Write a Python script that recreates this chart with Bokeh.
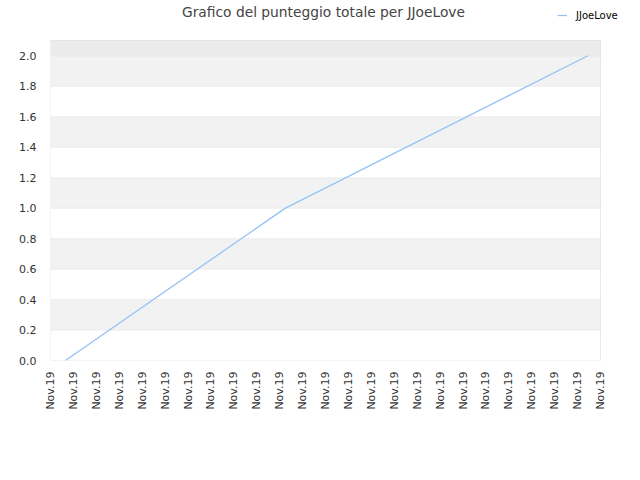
from bokeh.plotting import figure
from bokeh.models import FixedTicker, BoxAnnotation, Legend, LegendItem, Label
from bokeh.embed import file_html
from bokeh.resources import INLINE

# data (x in tick-index units along the date axis)
series_name = "JJoeLove"
xs = [0.65, 10.25, 23.45]
ys = [0.0, 1.0, 2.0]
tick_positions = list(range(25))
tick_labels = ["Nov.19"] * 25
y_ticks = [0.0, 0.2, 0.4, 0.6, 0.8, 1.0, 1.2, 1.4, 1.6, 1.8, 2.0]
x_start, x_end = 0, 24
y_start, y_end = 0.0, 2.1
title_text = "Grafico del punteggio totale per JJoeLove"
line_color = "#94c4f5"

# frame extends above and right of the plotting box so that title and legend
# (which sit outside the box in the reference) can be drawn
px_per_x = 550 / (x_end - x_start)
px_per_y = 320 / (y_end - y_start)
FW, FH = 575, 360
p = figure(frame_width=FW, frame_height=FH, output_backend="svg", toolbar_location=None,
           x_range=(x_start, x_start + FW / px_per_x),
           y_range=(y_start, y_start + FH / px_per_y),
           min_border_left=50, min_border_right=0, min_border_top=0, min_border_bottom=10)
p.outline_line_color = None
p.xgrid.visible = False
p.ygrid.visible = False

# alternating bands with grid edges
for i, lo in enumerate(y_ticks[:-1]):
    fill = "#f2f2f2" if i % 2 == 1 else "#ffffff"
    p.add_layout(BoxAnnotation(left=x_start, right=x_end, bottom=lo, top=y_ticks[i + 1],
                               fill_color=fill, fill_alpha=1, line_color="#dcdcdc",
                               line_width=1, level="underlay"))
p.add_layout(BoxAnnotation(left=x_start, right=x_end, bottom=y_ticks[-1], top=y_end,
                           fill_color="#ebebeb", fill_alpha=1, line_color="#dcdcdc",
                           line_width=1, level="underlay"))
# plot box outline
p.add_layout(BoxAnnotation(left=x_start, right=x_end, bottom=y_start, top=y_end,
                           fill_alpha=0, line_color="#d2d2d2", line_width=1,
                           level="underlay"))

p.yaxis.ticker = FixedTicker(ticks=y_ticks)
p.yaxis.major_label_overrides = {t: f"{t:.1f}" for t in y_ticks}
p.xaxis.ticker = FixedTicker(ticks=tick_positions)
p.xaxis.major_label_overrides = {t: l for t, l in zip(tick_positions, tick_labels)}
p.xaxis.major_label_orientation = 1.5708

for ax in (p.xaxis, p.yaxis):
    ax.axis_line_color = None
    ax.major_tick_line_color = None
    ax.minor_tick_line_color = None
    ax.major_label_text_font = "DejaVu Sans"
    ax.major_label_text_font_size = "11px"
    ax.major_label_text_color = "#333333"
p.yaxis.major_label_standoff = 8
p.xaxis.major_label_standoff = 5

r = p.line(xs, ys, line_color=line_color, line_width=1.3)

title = Label(x=273, y=349, x_units="screen", y_units="screen", text=title_text,
              text_align="center", text_baseline="middle", text_font="DejaVu Sans",
              text_font_size="13.8px", text_color="#444444")
p.add_layout(title)

legend = Legend(items=[LegendItem(label=series_name, renderers=[r])],
                location=(507, 339), orientation="horizontal",
                background_fill_alpha=0, border_line_alpha=0,
                label_text_font="DejaVu Sans", label_text_font_size="10px",
                label_text_color="#000000", glyph_width=10, glyph_height=12,
                label_height=12, label_standoff=9, padding=0, margin=0, spacing=0)
p.add_layout(legend, "center")

open("out.html", "w").write(file_html(p, INLINE))
